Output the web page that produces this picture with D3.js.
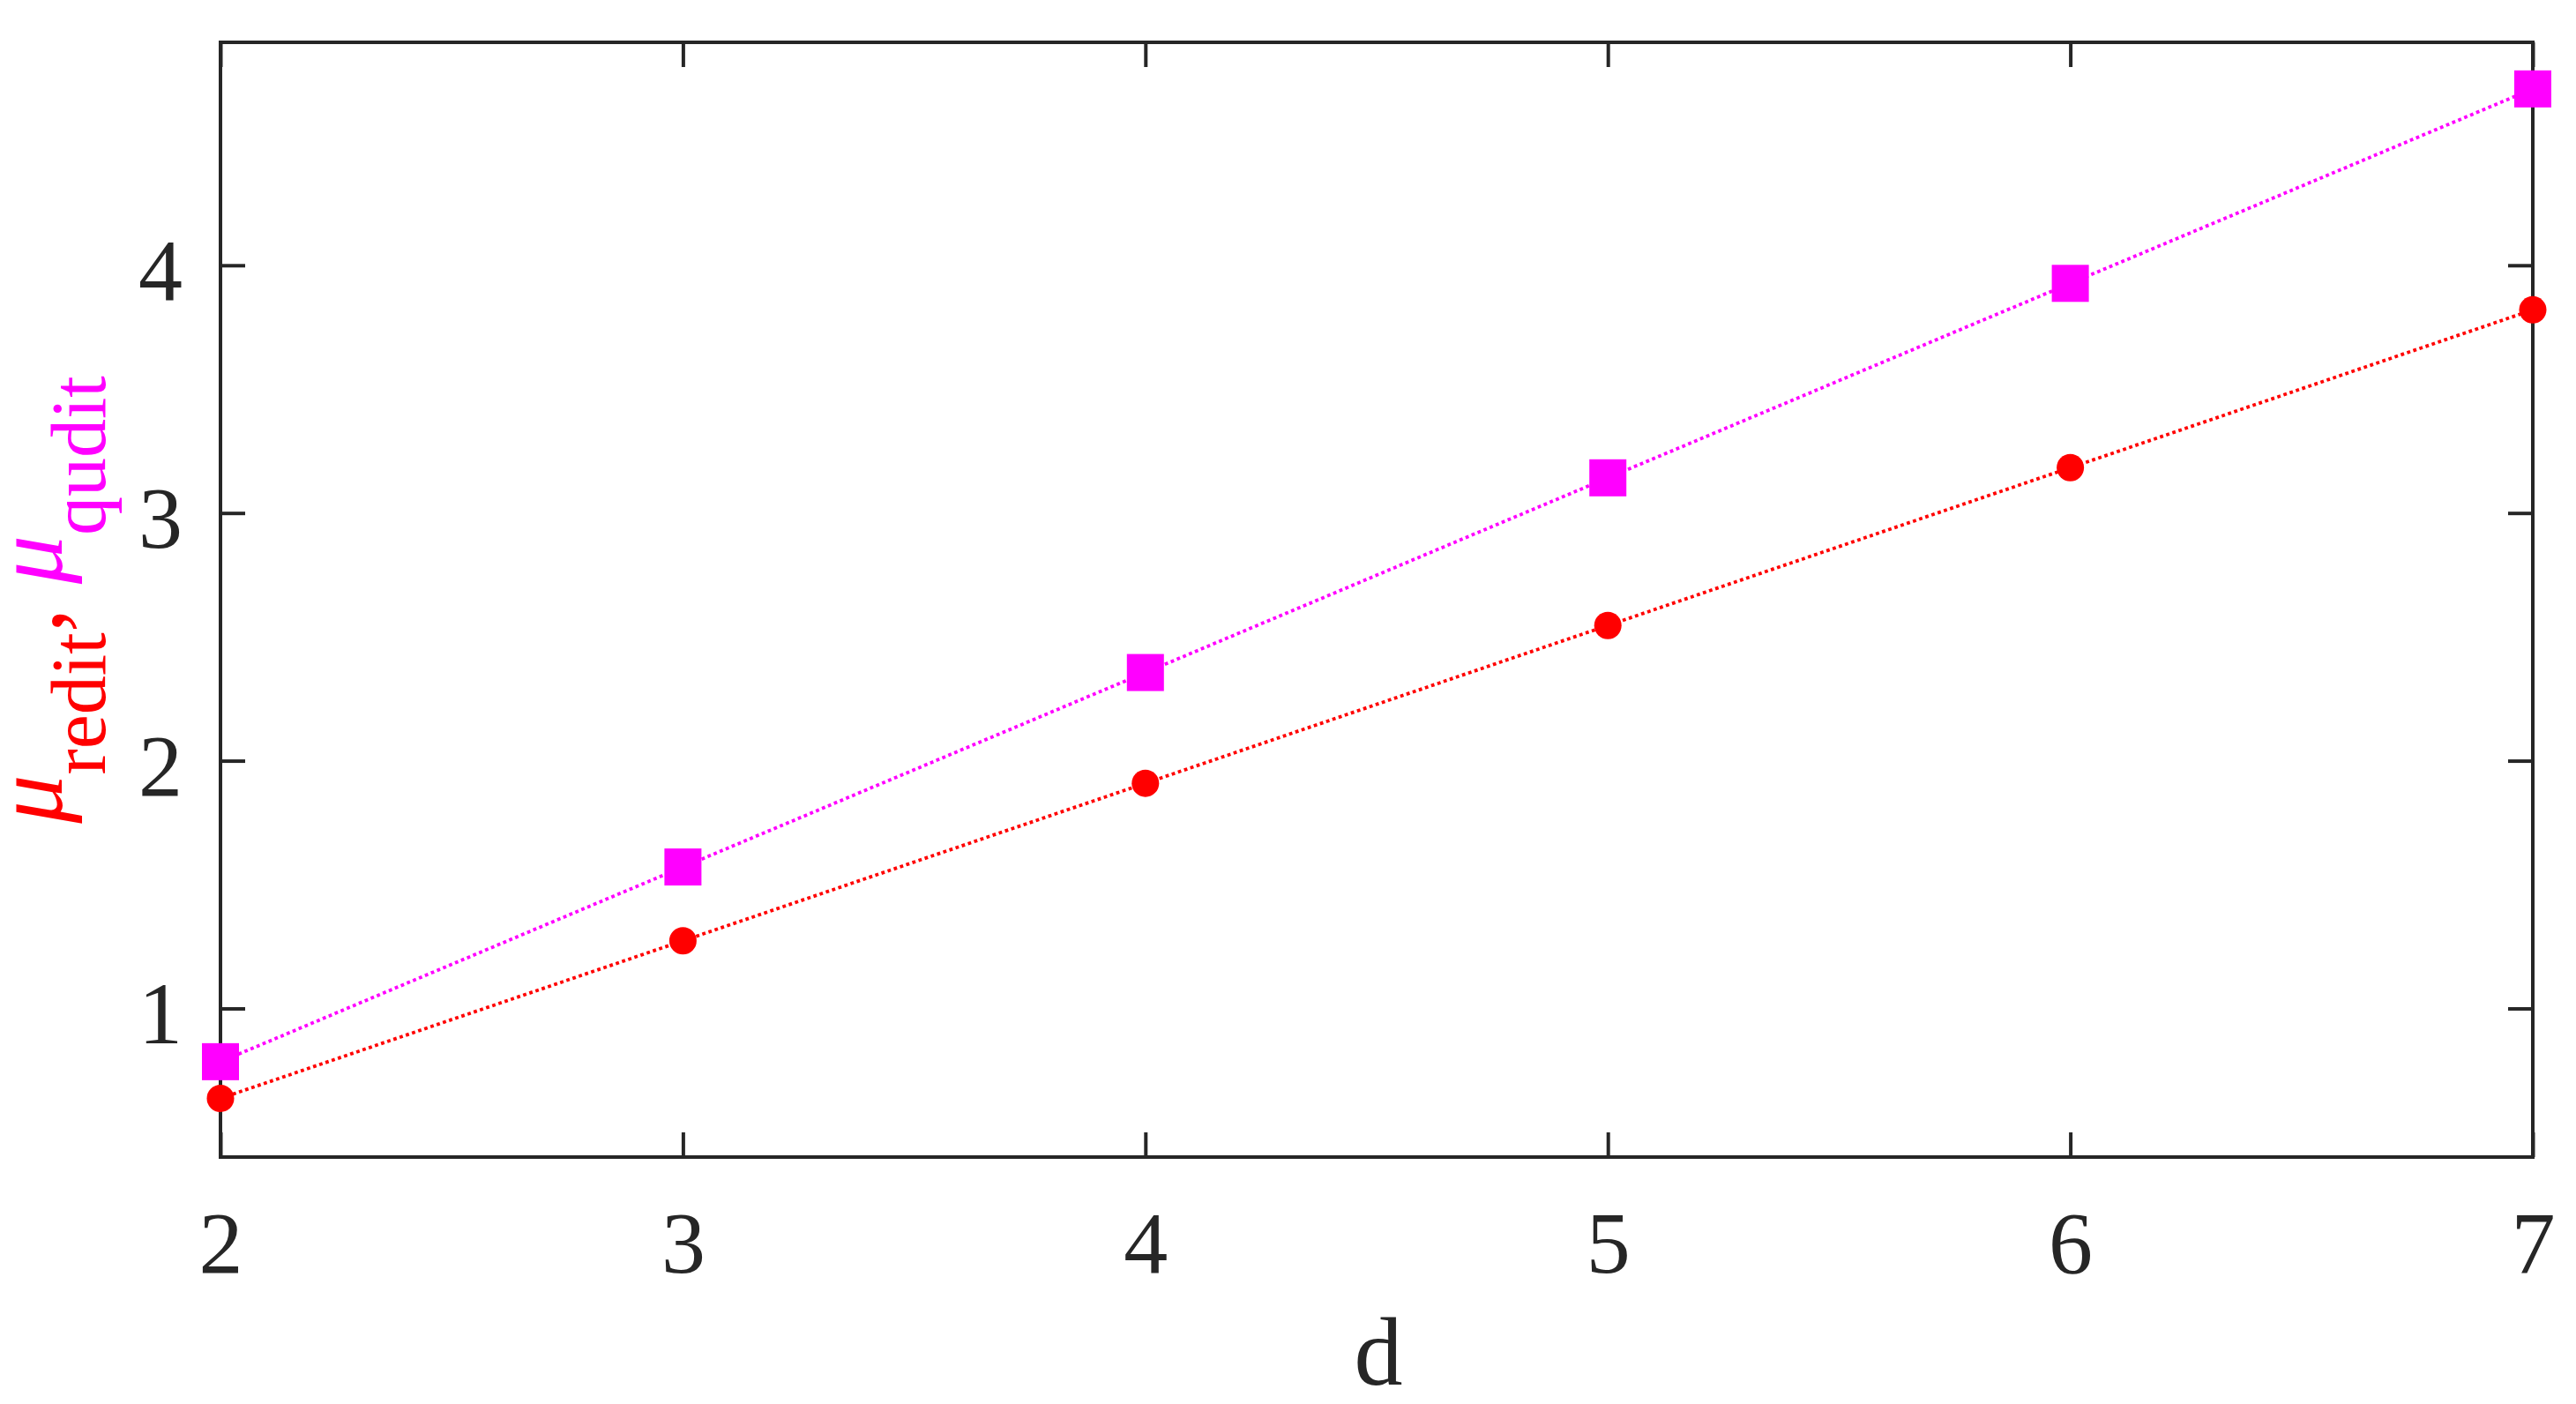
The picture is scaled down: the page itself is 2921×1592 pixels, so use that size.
<!DOCTYPE html>
<html>
<head>
<meta charset="utf-8">
<script src="https://d3js.org/d3.v7.min.js"></script>
<style>
  html, body { margin: 0; padding: 0; background: #fff; }
  svg { display: block; }
</style>
</head>
<body>
<script>
// ---- data ----
const dValues = [2, 3, 4, 5, 6, 7];
const muRedit = [0.637, 1.273, 1.909, 2.546, 3.183, 3.820];
const muQudit = [0.785, 1.571, 2.356, 3.142, 3.927, 4.712];
const xTicks = [2, 3, 4, 5, 6, 7];
const yTicks = [1, 2, 3, 4];
const xDomain = [2, 7];
const yDomain = [0.4, 4.9];

// ---- layout ----
const W = 2921, H = 1592;
const L = 250, R = 2872, T = 48, B = 1312;
const axisColor = "#262626";
const font = "'Liberation Serif', 'Times New Roman', serif";

const svg = d3.select("body").append("svg")
  .attr("width", W).attr("height", H)
  .attr("viewBox", `0 0 ${W} ${H}`);

const x = d3.scaleLinear().domain(xDomain).range([L, R]);
const y = d3.scaleLinear().domain(yDomain).range([B, T]);

const tickLen = 28;

// lines
const line = d3.line().x((d, i) => x(dValues[i])).y(d => y(d));

function drawSeries(vals, color) {
  svg.append("path")
    .datum(vals)
    .attr("d", line)
    .attr("fill", "none")
    .attr("stroke", color)
    .attr("stroke-width", 3.8)
    .attr("stroke-dasharray", "3.8 3.6");
}
drawSeries(muQudit, "#ff00ff");
drawSeries(muRedit, "#ff0000");

// axes (box with inward ticks)
function styleAxis(g) {
  g.selectAll(".domain").remove();
  g.selectAll(".tick line").attr("stroke", axisColor).attr("stroke-width", 4);
  g.selectAll("text").attr("fill", axisColor).attr("font-family", font).attr("font-size", 100);
}

const gB = svg.append("g").attr("transform", `translate(0,${B})`)
  .call(d3.axisBottom(x).tickValues(xTicks).tickSizeInner(-tickLen).tickSizeOuter(0).tickFormat(d3.format("d")));
styleAxis(gB);
gB.selectAll("text").attr("y", 131).attr("dy", 0);

const gT = svg.append("g").attr("transform", `translate(0,${T})`)
  .call(d3.axisTop(x).tickValues(xTicks).tickSizeInner(-tickLen).tickSizeOuter(0).tickFormat(""));
styleAxis(gT);

const gL = svg.append("g").attr("transform", `translate(${L},0)`)
  .call(d3.axisLeft(y).tickValues(yTicks).tickSizeInner(-tickLen).tickSizeOuter(0).tickFormat(d3.format("d")));
styleAxis(gL);
gL.selectAll("text").attr("x", -43).attr("dy", "0.39em");

const gR = svg.append("g").attr("transform", `translate(${R},0)`)
  .call(d3.axisRight(y).tickValues(yTicks).tickSizeInner(-tickLen).tickSizeOuter(0).tickFormat(""));
styleAxis(gR);

// frame
svg.append("rect")
  .attr("x", L).attr("y", T)
  .attr("width", R - L).attr("height", B - T)
  .attr("fill", "none")
  .attr("stroke", axisColor)
  .attr("stroke-width", 4);

// markers
svg.append("g").selectAll("rect")
  .data(muQudit)
  .join("rect")
  .attr("x", (d, i) => x(dValues[i]) - 21)
  .attr("y", d => y(d) - 21)
  .attr("width", 42).attr("height", 42)
  .attr("fill", "#ff00ff");

svg.append("g").selectAll("circle")
  .data(muRedit)
  .join("circle")
  .attr("cx", (d, i) => x(dValues[i]))
  .attr("cy", d => y(d))
  .attr("r", 15.5)
  .attr("fill", "#ff0000");

// x label
svg.append("text")
  .attr("x", (L + R) / 2 + 2)
  .attr("y", 1570)
  .attr("text-anchor", "middle")
  .attr("font-family", font)
  .attr("font-size", 110)
  .attr("fill", axisColor)
  .text("d");

// y label
const yl = svg.append("text")
  .attr("transform", `translate(70,${(T + B) / 2}) rotate(-90)`)
  .attr("text-anchor", "middle")
  .attr("font-family", font)
  .attr("font-size", 110);
yl.append("tspan").attr("fill", "#ff0000").attr("font-style", "italic").text("μ");
yl.append("tspan").attr("fill", "#ff0000").attr("font-size", 88).attr("dy", 49).text("redit");
yl.append("tspan").attr("fill", "#ff0000").attr("dy", -49).text(", ");
yl.append("tspan").attr("fill", "#ff00ff").attr("font-style", "italic").text("μ");
yl.append("tspan").attr("fill", "#ff00ff").attr("font-size", 88).attr("dy", 49).text("qudit");
</script>
</body>
</html>
